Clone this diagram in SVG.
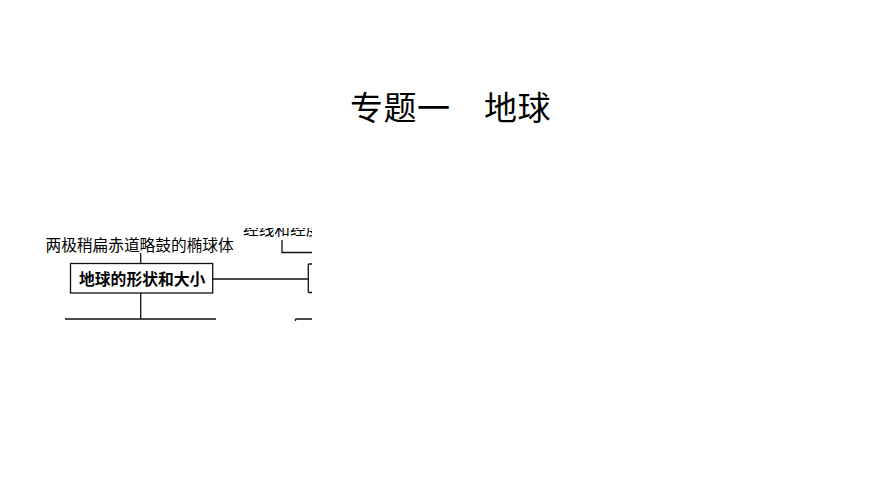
<svg xmlns="http://www.w3.org/2000/svg" width="870" height="489" viewBox="0 0 870 489">
<style>
text{font-family:"Noto Sans CJK SC","Noto Sans",sans-serif;fill:#000}
.t{font-size:33px;letter-spacing:0.5px}
.l{font-size:15.7px}
.b{font-size:15.8px;font-weight:bold}
.ln{stroke:#111;stroke-width:1.3;fill:none}
</style>
<defs>
<clipPath id="crop"><rect x="34" y="228" width="278" height="93"/></clipPath>
</defs>
<rect width="870" height="489" fill="#fff"/>
<g id="title"><text class="t" x="350" y="119.5">专题一　地球</text></g>
<g clip-path="url(#crop)">
<g id="connectors">
<path class="ln" d="M140.7 253V263.5M140.7 293V319M65 319H216M212.7 279H308.3M308.3 264V292.5M308.3 264H313M308.3 292.5H313M282 240V252.5H313M295.5 319H313M295.5 319V322"/>
</g>
<g id="node-shape-desc"><text class="l" x="45.5" y="251">两极稍扁赤道略鼓的椭球体</text></g>
<g id="node-shape-size">
<rect class="ln" x="70.5" y="263.5" width="142.2" height="29.5"/>
<text class="b" x="79" y="285">地球的形状和大小</text>
</g>
<g id="node-lat"><text class="l" x="243" y="235">经线和经度</text></g>
</g>
</svg>
